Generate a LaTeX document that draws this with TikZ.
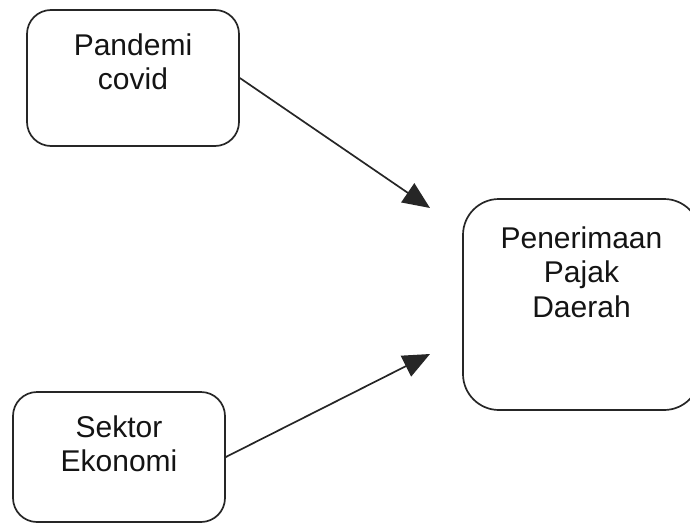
\documentclass[tikz,border=0pt]{standalone}
\usepackage{fontspec}
\setmainfont{Liberation Sans}
\usetikzlibrary{arrows.meta}
\begin{document}
\begin{tikzpicture}[x=1pt,y=-1pt,
  box/.style={draw=black!85, line width=1.7pt, inner sep=0pt},
  lbl/.style={font=\fontsize{30}{34.5}\selectfont, align=center, text=black!92, inner sep=0pt},
  link/.style={line width=1.7pt, draw=black!85, -{Triangle[length=27pt,width=23pt]}}]
\useasboundingbox (0,0) rectangle (690,524);
\node[box, rounded corners=24pt, minimum width=212pt, minimum height=136pt] (pc) at (133,78) {};
\node[box, rounded corners=24pt, minimum width=212pt, minimum height=130pt] (se) at (119,457) {};
\node[box, rounded corners=36pt, minimum width=237pt, minimum height=211pt] (pd) at (581.5,304.5) {};
\node[lbl] (pct) at (133,62) {Pandemi\\covid};
\node[lbl] (set) at (119,444) {Sektor\\Ekonomi};
\node[lbl] (pdt) at (581.5,272) {Penerimaan\\Pajak\\Daerah};
\coordinate (e1) at (430,208);
\coordinate (e2) at (430,354);
\draw[link] (pc.east) -- (e1);
\draw[link] (se.east) -- (e2);
\end{tikzpicture}
\end{document}
